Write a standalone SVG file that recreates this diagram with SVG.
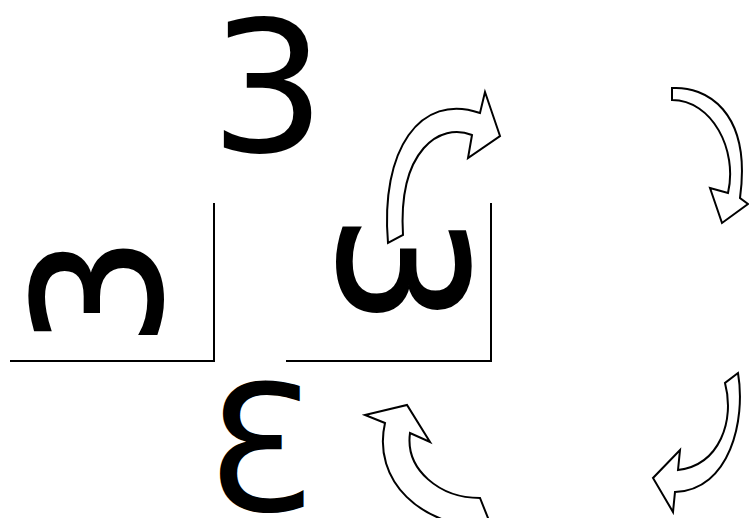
<svg xmlns="http://www.w3.org/2000/svg" width="749" height="518" viewBox="0 0 749 518">
<style>
.glyph{font-family:"DejaVu Sans",sans-serif;font-size:182px;fill:#000;text-anchor:middle}
.frame{fill:none;stroke:#000;stroke-width:2}
.arrow{fill:#fff;stroke:#000;stroke-width:2;stroke-linejoin:miter}
</style>
<rect width="749" height="518" fill="#fff"/>
<g id="digit-top"><text class="glyph" x="268" y="151">3</text></g>
<g id="digit-left"><text class="glyph" transform="translate(96.5,291.5) rotate(-90)" x="0" y="64" style="font-size:176px;stroke:#000;stroke-width:2">3</text></g>
<g id="digit-middle"><text class="glyph" transform="translate(402.5,270) rotate(90)" x="0" y="64" style="font-size:176px;stroke:#000;stroke-width:2">3</text></g>
<g id="digit-bottom"><text class="glyph" transform="matrix(-1 0 0 1 523 0)" x="261.5" y="511" style="font-size:174px">3</text></g>
<g id="frames">
<path class="frame" d="M10,361 H214 V203"/>
<path class="frame" d="M286,361 H491 V203"/>
</g>
<g id="connectors">
<path class="arrow" d="M388,243 C380,150 420,92 480,113 L485,92 L500,136 L468,158 L472,135 C440,122 398,150 403,235 Z"/>
<path class="arrow" d="M672,88 C705,86 752,110 740,198 L748,204 L722,223 L710,188 L728,193 C738,150 712,100 672,100 Z"/>
<path class="arrow" d="M738,373 C746,420 730,490 675,492 L673,512 L653,478 L680,450 L678,470 C720,465 735,420 725,383 Z"/>
<path class="arrow" d="M385,423 L365,415 L407,405 L430,442 L410,433 C405,470 440,498 480,498 L492,528 C420,528 372,480 385,423 Z"/>
</g>
</svg>
